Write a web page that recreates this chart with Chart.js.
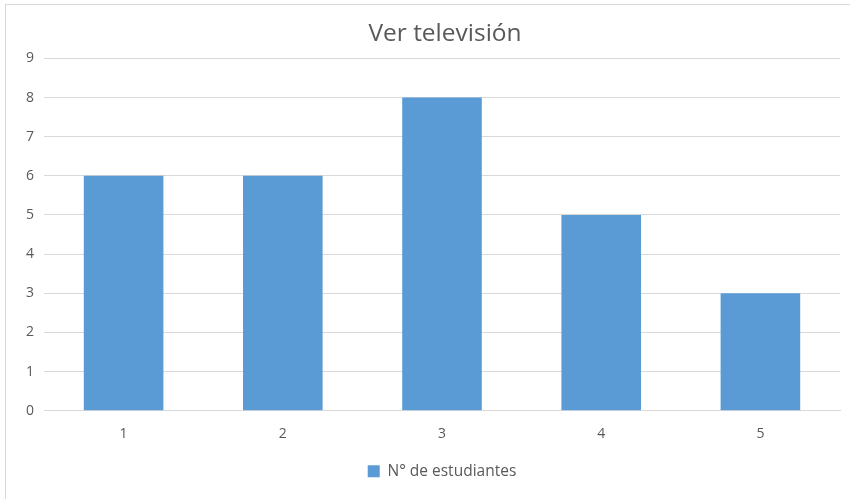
<!DOCTYPE html>
<html>
<head>
<meta charset="utf-8">
<script src="https://cdn.jsdelivr.net/npm/chart.js@4"></script>
<style>
html,body{margin:0;padding:0;background:#fff;}
#frame{position:absolute;left:5px;top:4px;width:850px;height:500px;border:1px solid #d9d9d9;box-sizing:border-box;}
#wrap{position:absolute;left:0;top:0;width:850px;height:499px;}
</style>
</head>
<body>
<div id="frame"></div>
<div id="wrap"><canvas id="c" width="850" height="499"></canvas></div>
<script>
const categories = ["1", "2", "3", "4", "5"];
const seriesName = "N° de estudiantes";
const values = [6, 6, 8, 5, 3];
const chartTitle = "Ver televisión";
const yMin = 0, yMax = 9, yStep = 1;

const txt = "#595959";
const font = "'Open Sans', sans-serif";

const boxShift = {
  id: 'boxShift',
  afterLayout(chart) {
    const ca = chart.chartArea;
    const cx = (ca.left + ca.right) / 2;
    const lg = chart.legend;
    if (lg) {
      const dx = cx - (lg.left + lg.right) / 2;
      lg.left += dx; lg.right += dx;
      lg.top -= 2; lg.bottom -= 2;
    }
    const tt = chart.titleBlock;
    if (tt) {
      const dx = cx + 3 - (tt.left + tt.right) / 2;
      tt.left += dx; tt.right += dx;
    }
  }
};

new Chart(document.getElementById('c'), {
  type: 'bar',
  data: {
    labels: categories,
    datasets: [{
      label: seriesName,
      data: values,
      backgroundColor: '#5b9bd5',
      borderWidth: 0,
      barPercentage: 0.5,
      categoryPercentage: 1.0
    }]
  },
  plugins: [boxShift],
  options: {
    responsive: false,
    animation: false,
    devicePixelRatio: 1,
    layout: { padding: { left: 10, right: 10, top: 0, bottom: 8 } },
    plugins: {
      title: {
        display: true, text: chartTitle, color: txt,
        font: { family: font, size: 24.5, weight: 'normal' },
        padding: { top: 19, bottom: 10 }
      },
      legend: {
        position: 'bottom',
        labels: {
          color: txt, font: { family: font, size: 15.5 },
          boxWidth: 12, boxHeight: 12, padding: 8
        }
      },
      tooltip: { enabled: false }
    },
    scales: {
      x: {
        grid: { display: false, drawTicks: false },
        border: { display: true, color: '#d9d9d9' },
        ticks: { color: txt, font: { family: font, size: 14 }, padding: 15 }
      },
      y: {
        min: yMin, max: yMax,
        afterFit: s => { s.width = 34; },
        grid: { color: '#d9d9d9', drawTicks: false },
        border: { display: false },
        ticks: { stepSize: yStep, color: txt, font: { family: font, size: 14 }, padding: 10 }
      }
    }
  }
});
</script>
</body>
</html>
